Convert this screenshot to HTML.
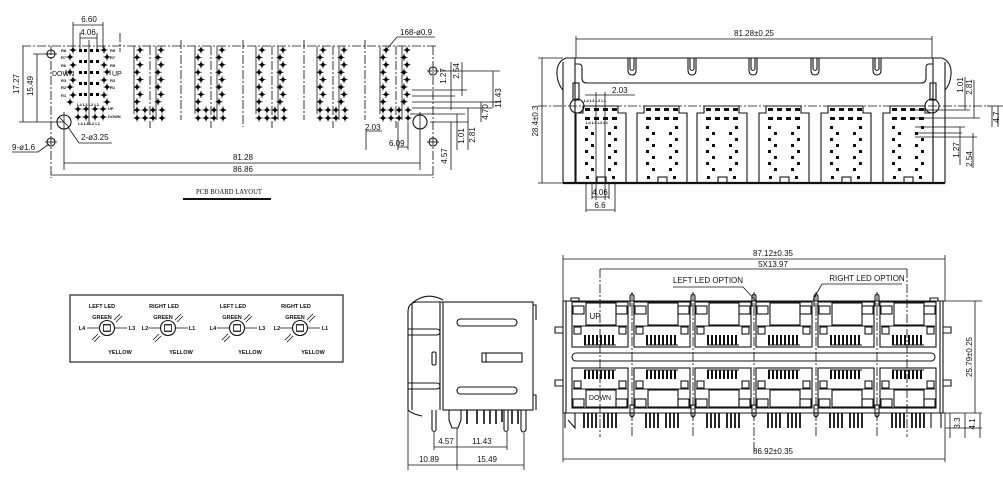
<!DOCTYPE html>
<html><head><meta charset="utf-8">
<style>
html,body{margin:0;padding:0;background:#fff;}
svg{display:block;}
.l{stroke:#151515;fill:none;stroke-width:1.1;}
.t{stroke:#151515;fill:none;stroke-width:.8;}
.dd{stroke:#151515;fill:none;stroke-width:.85;stroke-dasharray:9 2 2 2;}
.f{fill:#111;}
text{font-family:"Liberation Sans",sans-serif;fill:#111;font-size:9px;}
.s{font-size:5.5px;font-weight:bold;}
.xs{font-size:4px;font-weight:bold;}
.m{font-size:8px;}
</style></head>
<body>
<svg width="1003" height="486" viewBox="0 0 1003 486" xmlns="http://www.w3.org/2000/svg">
<defs>
  <g id="pin"><path d="M-3.5 0H3.5M0 -3.5V3.5" stroke="#000" stroke-width=".75"/><path d="M0 -2.5L2.5 0 0 2.5 -2.5 0Z" fill="#000"/></g>
  <g id="pcol">
    <use href="#pin" x="0" y="0"/><use href="#pin" x="-3" y="7.4"/><use href="#pin" x="0" y="14.8"/><use href="#pin" x="-3" y="22.2"/>
    <use href="#pin" x="0" y="29.6"/><use href="#pin" x="-3" y="37"/><use href="#pin" x="0" y="44.4"/><use href="#pin" x="-3" y="51.8"/>
  </g>
  <g id="pgrp">
    <path class="t" d="M-6 -4V64M16 -4V70"/>
    <path class="dd" d="M10 -4V78"/>
    <use href="#pcol"/><use href="#pcol" x="21"/>
    <use href="#pin" x="-3" y="60"/><use href="#pin" x="5" y="60"/><use href="#pin" x="13" y="60"/><use href="#pin" x="22" y="60"/>
    <use href="#pin" x="-3" y="68"/><use href="#pin" x="5" y="68"/><use href="#pin" x="13" y="68"/><use href="#pin" x="22" y="68"/>
  </g>
  <g id="blk">
    <path class="l" d="M0 77V7H7V0H42V7H50V77"/>
    <g class="f">
      <rect x="9" y="2" width="5" height="3"/><rect x="18" y="2" width="5" height="3"/><rect x="27" y="2" width="5" height="3"/><rect x="36" y="2" width="5" height="3"/>
      <rect x="9" y="11" width="5" height="3"/><rect x="18" y="11" width="5" height="3"/><rect x="27" y="11" width="5" height="3"/><rect x="36" y="11" width="5" height="3"/>
      <rect x="9" y="20" width="3" height="3"/><rect x="15" y="26" width="3" height="3"/><rect x="9" y="32" width="3" height="3"/><rect x="15" y="38" width="3" height="3"/>
      <rect x="9" y="44" width="3" height="3"/><rect x="15" y="50" width="3" height="3"/><rect x="9" y="56" width="3" height="3"/><rect x="15" y="62" width="3" height="3"/>
      <rect x="38" y="20" width="3" height="3"/><rect x="32" y="26" width="3" height="3"/><rect x="38" y="32" width="3" height="3"/><rect x="32" y="38" width="3" height="3"/>
      <rect x="38" y="44" width="3" height="3"/><rect x="32" y="50" width="3" height="3"/><rect x="38" y="56" width="3" height="3"/><rect x="32" y="62" width="3" height="3"/>
      <rect x="10" y="70" width="3" height="3"/><rect x="36" y="70" width="3" height="3"/>
    </g>
    <rect class="l" x="21" y="71" width="9" height="6"/>
  </g>
  <g id="cell">
    <rect class="l" x="0" y="0" width="56" height="45"/>
    <rect class="l" x="1" y="4" width="11" height="8"/><rect class="l" x="44" y="4" width="11" height="8"/>
    <rect class="l" x="14" y="1" width="30" height="22"/>
    <path class="l" d="M1 24H55"/>
    <rect class="l" x="2" y="25" width="7" height="7"/><rect class="l" x="47" y="25" width="7" height="7"/>
    <path d="M13 33V43M17 33V43M21 33V43M25 33V43M29 33V43M33 33V43M37 33V43M41 33V43" stroke="#111" stroke-width="2"/>
    <path class="l" d="M12 43H44"/>
  </g>
  <g id="cellb">
    <rect class="l" x="0" y="0" width="56" height="40"/>
    <path d="M13 2V11M17 2V11M21 2V11M25 2V11M29 2V11M33 2V11M37 2V11M41 2V11" stroke="#111" stroke-width="2"/>
    <path class="l" d="M12 2H44"/>
    <rect class="l" x="2" y="13" width="7" height="7"/><rect class="l" x="47" y="13" width="7" height="7"/>
    <path class="l" d="M1 21H55"/>
    <rect class="l" x="14" y="22" width="30" height="17"/>
    <rect class="l" x="1" y="31" width="11" height="8"/><rect class="l" x="44" y="31" width="11" height="8"/>
    <path d="M12 45V60M16 45V60M20 45V60M24 45V60M32 45V60M36 45V60M40 45V60M44 45V60" stroke="#111" stroke-width="1.8"/>
  </g>
  <g id="led">
    <circle class="l" cx="0" cy="0" r="7.5"/>
    <rect class="t" x="-3.5" y="-3.5" width="7" height="7"/>
    <path class="t" d="M-20 0H-7.5M7.5 0H20M-3 -3H3M-3 3H3"/>
    <path class="t" d="M7 -8L13 -14M9 -6L15 -12M-7 8L-13 14M-9 6L-15 12"/>
    <text class="s" x="-5" y="-9" text-anchor="middle">GREEN</text>
    <text class="s" x="13" y="26" text-anchor="middle">YELLOW</text>
  </g>
</defs>

<!-- ================= PCB BOARD LAYOUT ================= -->
<path class="dd" d="M22 46H436"/>
<path class="dd" d="M51 46V178M433 46V178"/>
<path class="dd" d="M120 33V52M181 40V120M243 40V127M304 40V120M365 40V120"/>
<circle class="l" cx="51" cy="54" r="4"/><path class="t" d="M45 54H57"/>
<circle class="l" cx="51" cy="142" r="4"/><path class="t" d="M45 142H57"/>
<circle class="l" cx="64" cy="122" r="7"/><path class="t" d="M59 117L69 127M64 112V170"/>
<circle class="l" cx="433" cy="71" r="4"/><path class="t" d="M427 71H439"/>
<circle class="l" cx="433" cy="142" r="4"/><path class="t" d="M427 142H439"/>
<circle class="l" cx="420" cy="122" r="7"/><path class="t" d="M420 112V170"/>
<!-- left dims -->
<path class="t" d="M23 46V122M19 122H64M37 54V122M33 54H51"/>
<text class="m" transform="translate(19,84) rotate(-90)" text-anchor="middle">17.27</text>
<text class="m" transform="translate(33,86) rotate(-90)" text-anchor="middle">15.49</text>
<text class="m" x="12" y="150">9-ø1.6</text><path class="t" d="M12 152H38L49 144"/>
<text class="m" x="81" y="140">2-ø3.25</text><path class="t" d="M79 143H112M79 143L68 127"/>
<!-- top dims -->
<path class="t" d="M73 22V48M103 22V48M73 25H103M80 33V50M97 33V50M80 38H97"/>
<text class="m" x="89" y="22" text-anchor="middle">6.60</text>
<text class="m" x="88" y="35" text-anchor="middle">4.06</text>
<text class="m" x="400" y="35">168-ø0.9</text><path class="t" d="M397 37H435M397 37L387 49"/>
<!-- group 1 -->
<g>
  <use href="#pin" x="73" y="50"/><use href="#pin" x="70" y="57"/><use href="#pin" x="73" y="65"/><use href="#pin" x="70" y="72"/>
  <use href="#pin" x="73" y="80"/><use href="#pin" x="70" y="87"/><use href="#pin" x="73" y="95"/><use href="#pin" x="70" y="102"/>
  <use href="#pin" x="104" y="50"/><use href="#pin" x="107" y="57"/><use href="#pin" x="104" y="65"/><use href="#pin" x="107" y="72"/>
  <use href="#pin" x="104" y="80"/><use href="#pin" x="107" y="87"/><use href="#pin" x="104" y="95"/><use href="#pin" x="107" y="102"/>
  <g fill="#000">
    <rect x="79" y="49" width="3" height="3"/><rect x="84" y="49" width="3" height="3"/><rect x="90" y="49" width="3" height="3"/><rect x="96" y="49" width="3" height="3"/>
    <rect x="79" y="60" width="3" height="3"/><rect x="84" y="60" width="3" height="3"/><rect x="90" y="60" width="3" height="3"/><rect x="96" y="60" width="3" height="3"/>
    <rect x="79" y="71" width="3" height="3"/><rect x="84" y="71" width="3" height="3"/><rect x="90" y="71" width="3" height="3"/><rect x="96" y="71" width="3" height="3"/>
    <rect x="79" y="82" width="3" height="3"/><rect x="84" y="82" width="3" height="3"/><rect x="90" y="82" width="3" height="3"/><rect x="96" y="82" width="3" height="3"/>
    <rect x="79" y="93" width="3" height="3"/><rect x="84" y="93" width="3" height="3"/><rect x="90" y="93" width="3" height="3"/><rect x="96" y="93" width="3" height="3"/>
  </g>
  <use href="#pin" x="78" y="109"/><use href="#pin" x="86" y="109"/><use href="#pin" x="95" y="109"/><use href="#pin" x="103" y="109"/>
  <use href="#pin" x="78" y="117"/><use href="#pin" x="86" y="117"/><use href="#pin" x="95" y="117"/><use href="#pin" x="103" y="117"/>
  <path class="t" d="M89 40V125"/>
  <text class="xs" x="61" y="52">R8</text><text class="xs" x="61" y="59">R7</text><text class="xs" x="61" y="67">R6</text>
  <text class="xs" x="61" y="82">R3</text><text class="xs" x="61" y="89">R2</text><text class="xs" x="61" y="97">R1</text>
  <text class="xs" x="110" y="52">R9</text><text class="xs" x="110" y="59">R7</text><text class="xs" x="110" y="67">R5</text>
  <text class="xs" x="110" y="82">R3</text><text class="xs" x="110" y="89">R1</text>
  <text class="xs" x="77" y="106">L4 L3 L2 L1</text><text class="xs" x="78" y="125">L4 L3 L2 L1</text>
  <text class="xs" x="108" y="110">UP</text><text class="xs" x="108" y="118">DOWN</text>
  <text class="m" x="52" y="76" style="font-size:7px">DOWN</text>
  <text class="m" x="112" y="76" style="font-size:7px">UP</text>
  <path class="t" d="M66 70V75M110 70V75"/>
</g>
<!-- groups 2-6 -->
<use href="#pgrp" x="140" y="50"/>
<use href="#pgrp" x="201" y="50"/>
<use href="#pgrp" x="262" y="50"/>
<use href="#pgrp" x="323" y="50"/>
<use href="#pgrp" x="386" y="50"/>
<!-- right pcb dims -->
<path class="t" d="M440 71H500M412 90H467M412 96H455M412 102H500M412 108H492M410 114H465M430 122H468"/>
<path class="t" d="M451 62V110M462 62V96M481 102V122M493 71V108M457 114V150M468 108V150M451 122V170"/>
<path class="t" d="M366 130V150M398 122V150M408 122V150M366 131H382M398 147H408"/>
<text class="m" transform="translate(446,76) rotate(-90)" text-anchor="middle">1.27</text>
<text class="m" transform="translate(459,71) rotate(-90)" text-anchor="middle">2.54</text>
<text class="m" transform="translate(501,98) rotate(-90)" text-anchor="middle">11.43</text>
<text class="m" transform="translate(488,112) rotate(-90)" text-anchor="middle">4.70</text>
<text class="m" transform="translate(464,136) rotate(-90)" text-anchor="middle">1.01</text>
<text class="m" transform="translate(475,135) rotate(-90)" text-anchor="middle">2.81</text>
<text class="m" transform="translate(447,156) rotate(-90)" text-anchor="middle">4.57</text>
<text class="m" x="365" y="130">2.03</text>
<text class="m" x="389" y="146">6.09</text>
<!-- bottom dims -->
<path class="t" d="M64 163H420M51 175H433"/>
<text class="m" x="243" y="160" text-anchor="middle">81.28</text>
<text class="m" x="243" y="172" text-anchor="middle">86.86</text>
<text x="229" y="194" text-anchor="middle" style="font-family:'Liberation Serif',serif;font-size:7px" textLength="66" lengthAdjust="spacingAndGlyphs">PCB BOARD LAYOUT</text>
<path d="M183 199H271" stroke="#111" stroke-width="2"/>

<!-- ================= TOP RIGHT VIEW ================= -->
<path class="l" d="M566 58H942"/>
<path class="l" d="M566 58Q556 62 557 75Q558 85 563 90M942 58Q952 62 951 75Q950 85 945 90"/>
<path class="l" d="M563 62V183M945 62V183M575 58V183M933 58V183"/>
<path class="l" d="M575 64H579Q582 64 582 68V78Q582 83 587 83H921Q926 83 926 78V68Q926 64 929 64H933"/>
<g class="l">
  <path d="M628 58V70Q628 75 632 75Q636 75 636 70V58M630 58V69Q632 72 634 69V58"/>
  <path d="M688 58V70Q688 75 692 75Q696 75 696 70V58M690 58V69Q692 72 694 69V58"/>
  <path d="M749 58V70Q749 75 753 75Q757 75 757 70V58M751 58V69Q753 72 755 69V58"/>
  <path d="M811 58V70Q811 75 815 75Q819 75 819 70V58M813 58V69Q815 72 817 69V58"/>
  <path d="M873 58V70Q873 75 877 75Q881 75 881 70V58M875 58V69Q877 72 879 69V58"/>
</g>
<rect class="l" x="573" y="83" width="6" height="17"/><rect class="l" x="930" y="83" width="6" height="17"/>
<circle class="l" cx="577" cy="106" r="7"/><circle class="l" cx="932" cy="106" r="7"/>
<path class="dd" d="M538 106H990"/>
<path d="M563 183H945" stroke="#111" stroke-width="2.2"/>
<use href="#blk" x="576" y="106"/>
<use href="#blk" x="637" y="106"/>
<use href="#blk" x="697" y="106"/>
<use href="#blk" x="759" y="106"/>
<use href="#blk" x="821" y="106"/>
<use href="#blk" x="883" y="106"/>
<text class="xs" x="584" y="102">L4 L3 L2 L1</text>
<text class="xs" x="586" y="124">L4 L3 L2 L1</text>
<path class="t" d="M596 92V200M605 92V200"/>
<!-- dims -->
<path class="t" d="M576 36V58M932 36V58M576 39H932"/>
<text class="m" x="754" y="36" text-anchor="middle">81.28±0.25</text>
<path class="t" d="M538 58H563M538 183H563M542 58V183"/>
<text class="m" transform="translate(538,121) rotate(-90)" text-anchor="middle">28.4±0.3</text>
<path class="t" d="M585 95H635"/>
<text class="m" x="612" y="93">2.03</text>
<path class="t" d="M586 183V212M615 183V212M592 183V199M609 183V199M592 197H609M586 210H615"/>
<text class="m" x="600" y="195" text-anchor="middle">4.06</text>
<text class="m" x="600" y="208" text-anchor="middle">6.6</text>
<path class="t" d="M915 110H970M915 118H980M915 127H965M915 133H962M915 137H977"/>
<path class="t" d="M965 77V110M974 80V118M992 106V127M998 106V127M960 127V165M973 133V168M987 106H1003"/>
<text class="m" transform="translate(963,85) rotate(-90)" text-anchor="middle">1.01</text>
<text class="m" transform="translate(972,87) rotate(-90)" text-anchor="middle">2.81</text>
<text class="m" transform="translate(999,117) rotate(-90)" text-anchor="middle">4.7</text>
<text class="m" transform="translate(959,150) rotate(-90)" text-anchor="middle">1.27</text>
<text class="m" transform="translate(972,159) rotate(-90)" text-anchor="middle">2.54</text>

<!-- ================= LED BOX ================= -->
<rect x="70" y="295" width="273" height="67" fill="none" stroke="#333" stroke-width="1.3"/>
<use href="#led" x="107" y="328"/>
<use href="#led" x="168" y="328"/>
<use href="#led" x="237" y="328"/>
<use href="#led" x="300" y="328"/>
<text class="s" x="102" y="308" text-anchor="middle">LEFT LED</text>
<text class="s" x="164" y="308" text-anchor="middle">RIGHT LED</text>
<text class="s" x="233" y="308" text-anchor="middle">LEFT LED</text>
<text class="s" x="296" y="308" text-anchor="middle">RIGHT LED</text>
<text class="s" x="82" y="330" text-anchor="middle">L4</text><text class="s" x="132" y="330" text-anchor="middle">L3</text>
<text class="s" x="145" y="330" text-anchor="middle">L2</text><text class="s" x="192" y="330" text-anchor="middle">L1</text>
<text class="s" x="213" y="330" text-anchor="middle">L4</text><text class="s" x="262" y="330" text-anchor="middle">L3</text>
<text class="s" x="277" y="330" text-anchor="middle">L2</text><text class="s" x="325" y="330" text-anchor="middle">L1</text>

<!-- ================= SIDE VIEW ================= -->
<g>
  <rect class="l" x="443" y="302" width="90" height="108"/>
  <path class="l" d="M533 305H536V320M533 395H536V410"/>
  <path class="l" d="M408 410V312Q408 302 418 302H443M409 306Q425 290 443 300M440 302V410M412 304V410"/>
  <path class="l" d="M408 329H436Q440 329 440 332Q440 335 436 335H408M408 383H436Q440 383 440 386Q440 389 436 389H408"/>
  <rect class="l" x="432" y="352" width="4" height="13" rx="1.5"/>
  <rect class="l" x="457" y="319" width="60" height="7" rx="3.5"/>
  <rect class="l" x="457" y="387" width="60" height="7" rx="3.5"/>
  <rect class="l" x="482" y="353" width="40" height="9"/><path class="l" d="M486 353V362"/>
  <path class="l" d="M408 410Q412 414 422 416"/>
  <path class="l" d="M432 410V430Q434 433 436 430V410"/>
  <path class="l" d="M449 410V420L452 428H458L461 420V410"/>
  <path d="M467 410V424M477 410V424M484 410V424M490 410V424M496 410V424M502 410V422M512 410V424M518 410V424" stroke="#111" stroke-width="1.6"/>
  <path class="l" d="M504 410V430Q506 433 508 430V410M521 410V430Q523 434 526 430V410"/>
  <path class="t" d="M434 432V450M457 428V470M507 432V450M408 410V470M524 433V470"/>
  <path class="t" d="M434 447H507M408 465H524"/>
  <text class="m" x="446" y="444" text-anchor="middle">4.57</text>
  <text class="m" x="482" y="444" text-anchor="middle">11.43</text>
  <text class="m" x="429" y="462" text-anchor="middle">10.89</text>
  <text class="m" x="487" y="462" text-anchor="middle">15.49</text>
</g>

<!-- ================= FRONT VIEW ================= -->
<path class="l" d="M563 301H945M563 301V413M943 301V413M563 413H945"/>
<path class="l" d="M571 301V298H579V301M930 301V298H938V301"/>
<path class="l" d="M563 327H555V333H563M563 380H555V386H563M943 327H951V333H943M943 380H951V386H943"/>
<path class="l" d="M566 301V413M940 301V413"/>
<use href="#cell" x="572" y="302"/>
<use href="#cell" x="634" y="302"/>
<use href="#cell" x="695" y="302"/>
<use href="#cell" x="756" y="302"/>
<use href="#cell" x="818" y="302"/>
<use href="#cell" x="880" y="302"/>
<rect class="l" x="572" y="353" width="363" height="8" rx="4"/>
<use href="#cellb" x="572" y="368"/>
<use href="#cellb" x="634" y="368"/>
<use href="#cellb" x="695" y="368"/>
<use href="#cellb" x="756" y="368"/>
<use href="#cellb" x="818" y="368"/>
<use href="#cellb" x="880" y="368"/>
<path class="l" d="M565 413V428M575 413V428L568 420"/>
<path class="l" d="M941 413V428M931 413V428"/>
<text class="m" x="595" y="319" text-anchor="middle">UP</text>
<text class="m" x="600" y="400" text-anchor="middle" style="font-size:7px">DOWN</text>
<!-- dividers -->
<g class="l">
  <path d="M630 296Q632 292 634 296V306H630Z"/><path d="M630 405H634V415Q632 419 630 415Z"/>
  <path d="M691 296Q693 292 695 296V306H691Z"/><path d="M691 405H695V415Q693 419 691 415Z"/>
  <path d="M752 296Q754 292 756 296V306H752Z"/><path d="M752 405H756V415Q754 419 752 415Z"/>
  <path d="M814 296Q816 292 818 296V306H814Z"/><path d="M814 405H818V415Q816 419 814 415Z"/>
  <path d="M875 296Q877 292 879 296V306H875Z"/><path d="M875 405H879V415Q877 419 875 415Z"/>
</g>
<path class="dd" d="M600 269V437M632 292V437M693 292V437M754 292V452M816 292V437M877 292V437M907 269V437"/>
<!-- front dims -->
<path class="t" d="M563 255V301M945 255V301M563 259H945M600 269H907"/>
<text class="m" x="773" y="256" text-anchor="middle">87.12±0.35</text>
<text class="m" x="773" y="267" text-anchor="middle">5X13.97</text>
<text class="m" x="708" y="283" text-anchor="middle">LEFT LED OPTION</text>
<path class="t" d="M673 287H743L757 302"/>
<text class="m" x="867" y="281" text-anchor="middle">RIGHT LED OPTION</text>
<path class="t" d="M822 284H902M822 284L813 300"/>
<path class="t" d="M563 413V462M945 413V462M563 459H945"/>
<text class="m" x="773" y="454" text-anchor="middle">86.92±0.35</text>
<path class="t" d="M945 301H982M945 413H982M975 301V413"/>
<text class="m" transform="translate(972,357) rotate(-90)" text-anchor="middle">25.79±0.25</text>
<path class="t" d="M945 428H982M950 413V438M965 413V438M980 413V438"/>
<text class="m" transform="translate(960,423) rotate(-90)" text-anchor="middle">3.3</text>
<text class="m" transform="translate(975,424) rotate(-90)" text-anchor="middle">4.1</text>
</svg>
</body></html>
